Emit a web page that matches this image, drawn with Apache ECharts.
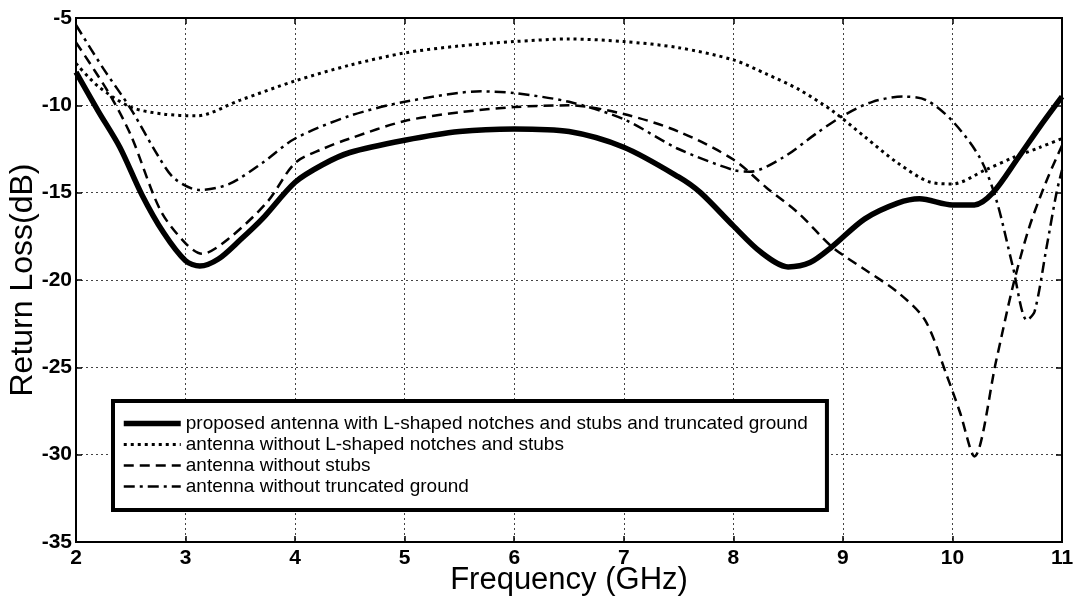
<!DOCTYPE html>
<html>
<head>
<meta charset="utf-8">
<script src="https://cdn.jsdelivr.net/npm/echarts@6/dist/echarts.min.js"></script>
<style>
  html, body { margin: 0; padding: 0; background: #fff; }
  #chart { width: 1073px; height: 605px; }
</style>
</head>
<body>
<div id="chart"></div>
<script>
// series labels
const seriesNames = [
  'proposed antenna with L-shaped notches and stubs and truncated ground',
  'antenna without L-shaped notches and stubs',
  'antenna without stubs',
  'antenna without truncated ground'
];

// proposed antenna (thick solid)
const proposedFreq = [2.0, 2.2, 2.4, 2.6, 2.8, 3.0, 3.13, 3.3, 3.5, 3.7, 4.0, 4.25, 4.5, 5.0, 5.5, 6.0, 6.5, 7.0, 7.5, 7.7, 8.0, 8.25, 8.5, 8.7, 8.9, 9.2, 9.5, 9.7, 10.0, 10.2, 10.37, 10.6, 10.8, 11.0];
const proposedRL = [-8.1, -10.3, -12.4, -15.1, -17.3, -18.9, -19.2, -18.8, -17.7, -16.5, -14.4, -13.4, -12.7, -12.0, -11.5, -11.35, -11.5, -12.4, -14.1, -15.0, -16.9, -18.4, -19.25, -19.0, -18.1, -16.5, -15.6, -15.35, -15.7, -15.7, -15.0, -13.0, -11.2, -9.5];

// without L-shaped notches and stubs (dotted)
const noNotchFreq = [2.0, 2.2, 2.5, 2.8, 3.1, 3.5, 4.0, 4.5, 5.0, 5.5, 6.0, 6.5, 7.0, 7.5, 8.0, 8.3, 8.6, 8.9, 9.2, 9.5, 9.8, 10.0, 10.3, 10.55, 10.8, 11.0];
const noNotchRL = [-7.6, -8.9, -10.1, -10.5, -10.6, -9.7, -8.6, -7.7, -7.0, -6.6, -6.35, -6.2, -6.35, -6.7, -7.4, -8.2, -9.1, -10.3, -11.8, -13.3, -14.4, -14.5, -13.7, -13.0, -12.4, -11.9];

// without stubs (dashed)
const noStubFreq = [2.0, 2.3, 2.5, 2.77, 3.0, 3.15, 3.4, 3.75, 4.0, 4.25, 4.5, 5.0, 5.5, 6.0, 6.5, 7.0, 7.5, 8.0, 8.3, 8.6, 8.9, 9.2, 9.5, 9.75, 9.95, 10.07, 10.2, 10.4, 10.55, 10.7, 10.86, 11.0];
const noStubRL = [-6.4, -9.3, -11.7, -16.0, -17.9, -18.5, -17.6, -15.5, -13.3, -12.5, -11.9, -10.9, -10.4, -10.1, -10.0, -10.5, -11.5, -13.1, -14.7, -16.2, -18.1, -19.4, -20.7, -22.3, -25.5, -27.6, -30.1, -24.6, -20.4, -17.0, -14.3, -12.3];

// without truncated ground (dash-dot)
const noTruncFreq = [2.0, 2.25, 2.5, 2.75, 2.9, 3.13, 3.4, 3.7, 4.0, 4.5, 5.0, 5.7, 6.0, 6.5, 7.0, 7.5, 8.0, 8.15, 8.45, 8.76, 9.0, 9.27, 9.55, 9.76, 10.0, 10.25, 10.4, 10.55, 10.68, 10.75, 10.86, 10.95, 11.0];
const noTruncRL = [-5.4, -7.9, -10.2, -12.9, -14.2, -14.85, -14.5, -13.3, -11.9, -10.6, -9.8, -9.2, -9.3, -9.8, -10.8, -12.5, -13.7, -13.8, -13.0, -11.6, -10.6, -9.8, -9.5, -9.7, -10.9, -13.0, -15.4, -19.2, -22.3, -21.8, -18.1, -15.0, -13.7];

const lineWidths = [5.5, 3, 2.5, 2.5];
const lineTypes = ['solid', [3, 4], [10, 6], [11, 5, 3, 5]];

const pairs = (xs, ys) => xs.map((x, i) => [x, ys[i]]);

const chart = echarts.init(document.getElementById('chart'));

const gridLine = { show: true, lineStyle: { color: '#444', width: 1, type: [2, 3] } };
const tickStyle = { show: true, inside: true, length: 6, lineStyle: { color: '#000', width: 1.5 } };
const tickFont = { color: '#000', fontFamily: 'Liberation Sans', fontWeight: 'bold', fontSize: 21 };
const nameFont = { color: '#000', fontFamily: 'Liberation Sans' };

function lineSeries(i, data) {
  return {
    name: seriesNames[i],
    type: 'line',
    data: data,
    symbol: 'none',
    smooth: 0.3,
    lineStyle: { color: '#000', width: lineWidths[i], type: lineTypes[i] },
    itemStyle: { color: '#000' },
    z: 3
  };
}

chart.setOption({
  animation: false,
  backgroundColor: '#fff',
  grid: {
    left: 76, right: 11, top: 18, bottom: 63,
    outerBoundsMode: 'none',
    show: true, borderColor: '#000', borderWidth: 2, backgroundColor: 'transparent'
  },
  xAxis: [
    {
      type: 'value', min: 2, max: 11, interval: 1,
      name: 'Frequency (GHz)', nameLocation: 'middle', nameGap: 23,
      nameMoveOverlap: false,
      nameTextStyle: Object.assign({ fontSize: 31 }, nameFont),
      axisLine: { show: true, lineStyle: { color: '#000', width: 2 } },
      axisTick: tickStyle,
      axisLabel: Object.assign({ margin: 6 }, tickFont),
      splitLine: gridLine
    },
    {
      type: 'value', min: 2, max: 11, interval: 1, position: 'top',
      axisLine: { show: true, lineStyle: { color: '#000', width: 2 } },
      axisTick: tickStyle, axisLabel: { show: false }, splitLine: { show: false }
    }
  ],
  yAxis: [
    {
      type: 'value', min: -35, max: -5, interval: 5,
      name: 'Return Loss(dB)', nameLocation: 'middle', nameGap: 37,
      nameMoveOverlap: false,
      nameTextStyle: Object.assign({ fontSize: 32 }, nameFont),
      axisLine: { show: true, lineStyle: { color: '#000', width: 2 } },
      axisTick: tickStyle,
      axisLabel: Object.assign({ margin: 4 }, tickFont),
      splitLine: gridLine
    },
    {
      type: 'value', min: -35, max: -5, interval: 5, position: 'right',
      axisLine: { show: true, lineStyle: { color: '#000', width: 2 } },
      axisTick: tickStyle, axisLabel: { show: false }, splitLine: { show: false }
    }
  ],
  legend: {
    orient: 'vertical',
    left: 113, top: 401,
    data: seriesNames.map((n, i) => ({
      name: n,
      lineStyle: { color: '#000', width: lineWidths[i], type: lineTypes[i] }
    })),
    itemWidth: 57, itemHeight: 14, itemGap: 2,
    itemStyle: { opacity: 0 },
    padding: [13, 19, 14, 8],
    backgroundColor: '#fff',
    borderColor: '#000', borderWidth: 4, borderRadius: 0,
    textStyle: { color: '#000', fontFamily: 'Liberation Sans', fontSize: 19, lineHeight: 19 }
  },
  series: [
    lineSeries(0, pairs(proposedFreq, proposedRL)),
    lineSeries(1, pairs(noNotchFreq, noNotchRL)),
    lineSeries(2, pairs(noStubFreq, noStubRL)),
    lineSeries(3, pairs(noTruncFreq, noTruncRL))
  ]
});
</script>
</body>
</html>
